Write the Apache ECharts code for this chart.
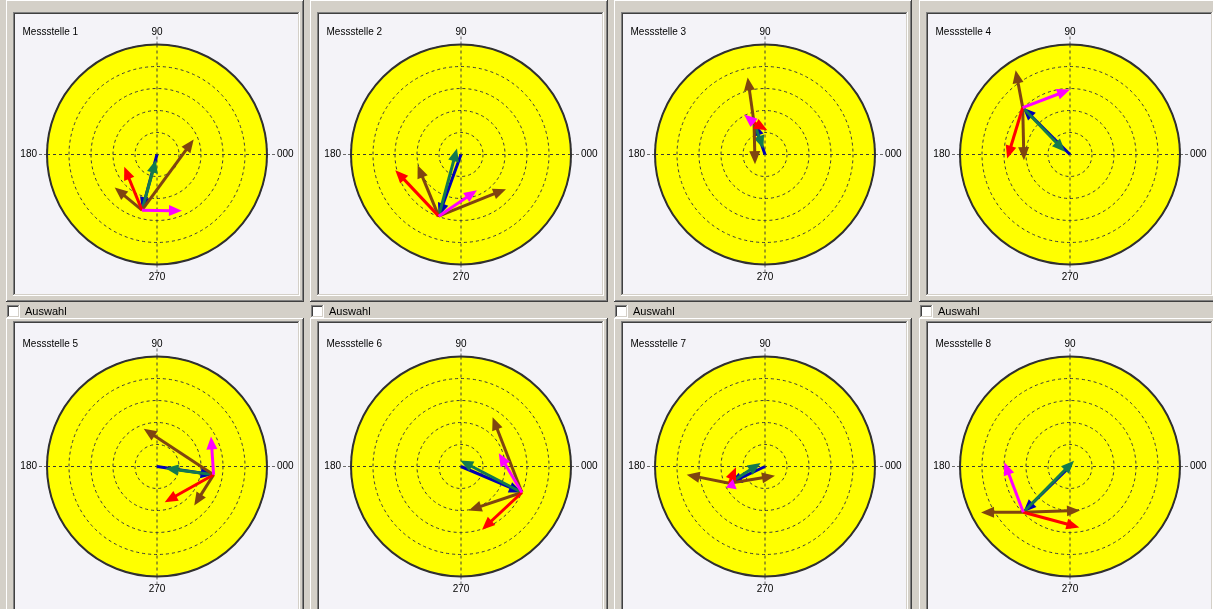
<!DOCTYPE html>
<html>
<head>
<meta charset="utf-8">
<script src="https://cdn.jsdelivr.net/npm/echarts@6/dist/echarts.min.js"></script>
<style>
  html, body { margin: 0; padding: 0; background: #d4d0c8; }
  #chart { width: 1213px; height: 609px; }
</style>
</head>
<body>
<div id="chart"></div>
<script>
// Measuring points, one polar vector plot each
const stations = ['Messstelle 1', 'Messstelle 2', 'Messstelle 3', 'Messstelle 4',
                  'Messstelle 5', 'Messstelle 6', 'Messstelle 7', 'Messstelle 8'];

// Angle axis tick labels (degrees -> text)
const angleTicks = [0, 90, 180, 270];
const angleTickText = ['000', '90', '180', '270'];
const checkboxText = 'Auswahl';

// Every point is [radius, angle in degrees]; radius ring spacing = 1.
// Blue vector runs from the origin to this point; all other arrows start here.
const pivot = [[2.62, 254.9], [2.98, 250.1], [1.52, 109.1], [3.03, 135.2],
               [2.60, 351.7], [3.01, 336.9], [1.79, 205.1], [2.97, 224.4]];
// Arrow tips (absolute positions), each arrow starting at the pivot
const greenTip   = [[0.25, 258.0], [0.33, 123.7], [0.28, 105.8], [0.26, 151.6],
                    [0.39, 348.4], [0.28, 97.0],  [0.25, 142.0], [0.32, 55.0]];
const brownTipA  = [[1.80, 22.2],  [2.58, 322.4], [3.59, 102.7], [4.56, 122.8],
                    [1.82, 109.4], [2.66, 57.3],  [3.58, 186.0], [4.55, 207.3]];
const brownTipB  = [[2.44, 218.0], [2.03, 193.9], [0.63, 224.0], [2.11, 187.1],
                    [2.45, 313.7], [2.03, 280.0], [0.62, 317.0], [2.05, 282.8]];
const redTip     = [[1.59, 200.6], [3.07, 193.4], [1.11, 84.6],  [2.86, 183.7],
                    [1.66, 282.2], [3.03, 288.4], [1.32, 181.4], [2.80, 278.7]];
const magentaTip = [[2.80, 293.9], [1.78, 294.1], [2.05, 117.7], [2.95, 90.0],
                    [2.81, 29.1],  [1.82, 19.4],  [1.65, 218.7], [2.99, 176.3]];

const COLORS = {
  blue: '#0000b4', green: '#137a4e', brown: '#7f4510', red: '#ff0000', magenta: '#ff00ff'
};

// Panel layout
const colOffset = [0, 304, 608, 913];
const rowOffset = [0, 312];
const CX = 157, CY = 154.5, R = 110;
const PANEL_BG = '#f4f3f8';
const FACE = '#d4d0c8';

function rect(x, y, w, h, fill, z) {
  return { type: 'rect', silent: true, z: z, shape: { x: x, y: y, width: w, height: h }, style: { fill: fill } };
}
function bevel(x, y, w, h, tl, br, z) {
  return [
    rect(x, y, w, 1, tl, z), rect(x, y, 1, h, tl, z),
    rect(x, y + h - 1, w, 1, br, z), rect(x + w - 1, y, 1, h, br, z)
  ];
}

const graphics = [];
for (let row = 0; row < 2; row++) {
  for (let col = 0; col < 4; col++) {
    const dx = colOffset[col], dy = rowOffset[row];
    const i = row * 4 + col;
    // raised outer frame
    const oTop = row === 0 ? 0 : 318;
    const oH = row === 0 ? 302 : 294;
    graphics.push(...bevel(6 + dx, oTop, 298, oH, '#ffffff', '#404040', -10));
    graphics.push(...bevel(7 + dx, oTop + 1, 296, oH - 2, FACE, '#808080', -10));
    // sunken plot area
    const sTop = row === 0 ? 12 : 321;
    const sH = row === 0 ? 284 : 290;
    graphics.push(...bevel(13 + dx, sTop, 287, sH, '#808080', '#ffffff', -10));
    graphics.push(...bevel(14 + dx, sTop + 1, 285, sH - 2, '#404040', FACE, -10));
    graphics.push(rect(15 + dx, sTop + 2, 283, sH - 4, PANEL_BG, -10));
    // polar disk
    graphics.push({
      type: 'circle', silent: true, z: -5,
      shape: { cx: CX + dx, cy: CY + dy, r: R },
      style: { fill: '#ffff00' }
    });
    // station caption
    graphics.push({
      type: 'text', silent: true, z: 5,
      style: {
        text: stations[i], x: 22.5 + dx, y: 32 + dy,
        fill: '#000', font: '10px "Liberation Sans", Arial, sans-serif',
        verticalAlign: 'middle', textAlign: 'left'
      }
    });
    // selection checkbox between the rows
    if (row === 1) {
      graphics.push(...bevel(7 + dx, 305, 13, 13, '#808080', '#ffffff', -10));
      graphics.push(...bevel(8 + dx, 306, 11, 11, '#404040', FACE, -10));
      graphics.push(rect(9 + dx, 307, 9, 9, '#ffffff', -10));
      graphics.push({
        type: 'text', silent: true, z: 5,
        style: {
          text: checkboxText, x: 25 + dx, y: 311.5,
          fill: '#000', font: '11px "Liberation Sans", Arial, sans-serif',
          verticalAlign: 'middle', textAlign: 'left'
        }
      });
    }
  }
}

const polar = [], angleAxis = [], radiusAxis = [], series = [];
const HEAD_LEN = 13, HEAD_HALF = 5.5;

function renderArrow(params, api) {
  const a = api.coord([api.value(0), api.value(1)]);
  const b = api.coord([api.value(2), api.value(3)]);
  const color = api.visual('color');
  const vx = b[0] - a[0], vy = b[1] - a[1];
  const len = Math.hypot(vx, vy) || 1;
  const ux = vx / len, uy = vy / len;
  const hl = Math.min(HEAD_LEN, len);
  const bx = b[0] - ux * hl, by = b[1] - uy * hl;
  return {
    type: 'group',
    children: [
      { type: 'line', shape: { x1: a[0], y1: a[1], x2: bx + ux * 2, y2: by + uy * 2 },
        style: { stroke: color, lineWidth: 3 } },
      { type: 'polygon',
        shape: { points: [[b[0], b[1]], [bx - uy * HEAD_HALF, by + ux * HEAD_HALF], [bx + uy * HEAD_HALF, by - ux * HEAD_HALF]] },
        style: { fill: color } }
    ]
  };
}

for (let i = 0; i < 8; i++) {
  const dx = colOffset[i % 4], dy = rowOffset[Math.floor(i / 4)];
  polar.push({ center: [CX + dx, CY + dy], radius: R });
  angleAxis.push({
    polarIndex: i, type: 'value', min: 0, max: 360, interval: 90,
    startAngle: 0, clockwise: false,
    axisLine: { show: true, lineStyle: { color: '#303030', width: 2 } },
    axisTick: { show: true, length: 8, lineStyle: { color: '#6a6a6a', type: [3, 2] } },
    axisLabel: {
      show: true, margin: 10, lineHeight: 5, color: '#000', fontSize: 10,
      fontFamily: '"Liberation Sans", Arial, sans-serif',
      formatter: function (v) { const k = angleTicks.indexOf(v); return k >= 0 && v !== 360 ? angleTickText[k] : ''; }
    },
    splitLine: { show: true, lineStyle: { color: '#3a3a3a', width: 1, type: [3, 3] } }
  });
  radiusAxis.push({
    polarIndex: i, type: 'value', min: 0, max: 5, interval: 1,
    axisLine: { show: false }, axisTick: { show: false }, axisLabel: { show: false },
    splitLine: { show: true, lineStyle: { color: '#3a3a3a', width: 1, type: [3, 3] } }
  });
  const p = pivot[i];
  const arrows = [
    [[0, 0], p, COLORS.blue],
    [p, greenTip[i], COLORS.green],
    [p, brownTipA[i], COLORS.brown],
    [p, brownTipB[i], COLORS.brown],
    [p, redTip[i], COLORS.red],
    [p, magentaTip[i], COLORS.magenta]
  ];
  series.push({
    type: 'custom', coordinateSystem: 'polar', polarIndex: i,
    silent: true, animation: false, z: 5,
    renderItem: renderArrow,
    data: arrows.map(function (ar) {
      return { value: [ar[0][0], ar[0][1], ar[1][0], ar[1][1]], itemStyle: { color: ar[2] } };
    })
  });
}

const chart = echarts.init(document.getElementById('chart'));
chart.setOption({
  backgroundColor: FACE,
  animation: false,
  graphic: { elements: graphics },
  polar: polar,
  angleAxis: angleAxis,
  radiusAxis: radiusAxis,
  series: series
});
</script>
</body>
</html>
